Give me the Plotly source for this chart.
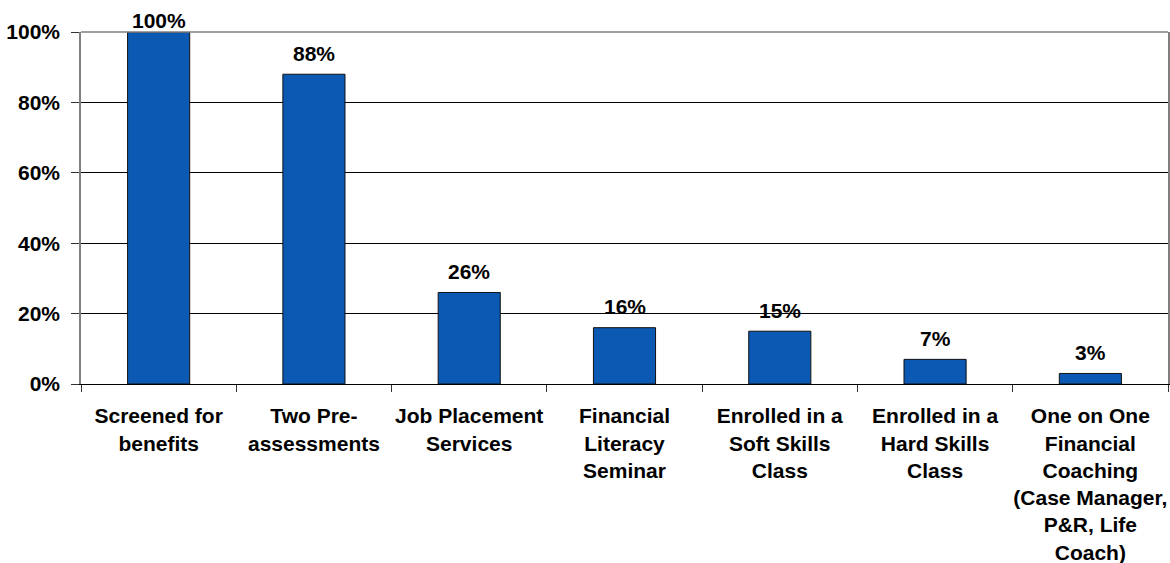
import plotly.graph_objects as go

# Share of participants receiving each service
categories = [
    "Screened for<br>benefits",
    "Two Pre-<br>assessments",
    "Job Placement<br>Services",
    "Financial<br>Literacy<br>Seminar",
    "Enrolled in a<br>Soft Skills<br>Class",
    "Enrolled in a<br>Hard Skills<br>Class",
    "One on One<br>Financial<br>Coaching<br>(Case Manager,<br>P&R, Life<br>Coach)",
]
shares = [1.00, 0.88, 0.26, 0.16, 0.15, 0.07, 0.03]
y_ticks = [0, 0.2, 0.4, 0.6, 0.8, 1.0]

FONT = "Liberation Sans, Arial, sans-serif"
BAR_BLUE = "#0B59B3"
LABEL_FONT = dict(family=FONT, size=21, color="black", weight="bold")

fig = go.Figure(
    go.Bar(
        x=categories,
        y=shares,
        marker=dict(color=BAR_BLUE, line=dict(color="#111111", width=1)),
        hoverinfo="skip",
    )
)

# Value labels above each bar (the full-height bar keeps its label inside the frame)
for cat, v in zip(categories, shares):
    fig.add_annotation(
        x=cat, y=v, text=f"{v:.0%}", showarrow=False,
        yanchor="middle", yshift=12 if v >= 0.95 else 21,
        font=LABEL_FONT,
    )

# Grey frame on the top edge of the plot area
fig.add_shape(type="line", xref="paper", yref="paper", x0=0, x1=1, y0=1, y1=1,
              line=dict(color="#808080", width=1.5), layer="above")

fig.update_layout(
    width=1170, height=563,
    margin=dict(l=81, r=2, t=32, b=179, autoexpand=False),
    paper_bgcolor="white", plot_bgcolor="white",
    bargap=0.6, showlegend=False,
    font=LABEL_FONT,
)
fig.update_xaxes(
    type="category", tickson="boundaries", ticks="outside", ticklen=7,
    tickcolor="#333333", showline=True, linecolor="black", linewidth=1,
    showgrid=False, ticklabelstandoff=13, tickangle=0, automargin=False,
    tickfont=LABEL_FONT,
)
fig.update_yaxes(
    range=[0, 1], tickvals=y_ticks, tickformat=".0%", ticks="outside", ticklen=8,
    tickcolor="#333333", showline=True, linecolor="#808080", linewidth=1.5, mirror=True,
    showgrid=True, gridcolor="black", gridwidth=1, zeroline=False,
    ticklabelstandoff=7, automargin=False,
    tickfont=LABEL_FONT,
)

fig.write_html("out.html")
